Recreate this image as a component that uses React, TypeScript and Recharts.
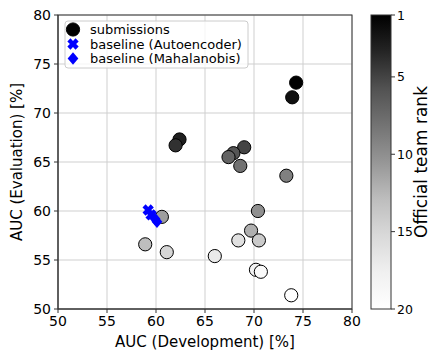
import React from 'react';
import { ScatterChart, Scatter, XAxis, YAxis, CartesianGrid } from 'recharts';

const devAUC = [74.3, 73.9, 62.4, 62.0, 69.0, 67.9, 67.4, 68.6, 73.3, 70.4, 60.6, 69.7, 58.9, 70.5, 61.1, 68.4, 66.0, 70.2, 70.7, 73.8];
const evalAUC = [73.1, 71.6, 67.3, 66.7, 66.5, 65.9, 65.5, 64.6, 63.6, 60.0, 59.4, 58.0, 56.6, 57.0, 55.8, 57.0, 55.4, 54.0, 53.8, 51.4];
const ranks = [1, 2, 3, 4, 5, 6, 7, 8, 9, 10, 11, 12, 13, 14, 15, 16, 17, 18, 19, 20];

const aeDev = [59.2, 59.5];
const aeEval = [60.1, 59.6];
const mahaDev = [59.9, 60.1];
const mahaEval = [59.2, 58.9];

const axisTicks = [50, 55, 60, 65, 70, 75, 80];
const rankTicks = [1, 5, 10, 15, 20];

const submissions = devAUC.map((x, i) => ({ x, y: evalAUC[i], rank: ranks[i] }));
const autoencoder = aeDev.map((x, i) => ({ x, y: aeEval[i] }));
const mahalanobis = mahaDev.map((x, i) => ({ x, y: mahaEval[i] }));

// matplotlib Greys colormap stops
const greys = ['#ffffff', '#f0f0f0', '#d9d9d9', '#bdbdbd', '#969696', '#737373', '#525252', '#252525', '#000000'];
function hex2rgb(h: string) {
  return [parseInt(h.slice(1, 3), 16), parseInt(h.slice(3, 5), 16), parseInt(h.slice(5, 7), 16)];
}
function greyColor(t: number) {
  const p = Math.max(0, Math.min(1, t)) * (greys.length - 1);
  const i = Math.min(greys.length - 2, Math.floor(p));
  const f = p - i;
  const a = hex2rgb(greys[i]);
  const b = hex2rgb(greys[i + 1]);
  const c = a.map((v, k) => Math.round(v + (b[k] - v) * f));
  return `rgb(${c[0]},${c[1]},${c[2]})`;
}
const rankColor = (r: number) => greyColor((20 - r) / 19);

const FONT = 'DejaVu Sans, sans-serif';
const BLUE = '#0000ff';

function xPath(cx: number, cy: number, L = 5.8, w = 2.2) {
  const pts = [[-w, -L], [w, -L], [w, -w], [L, -w], [L, w], [w, w], [w, L], [-w, L], [-w, w], [-L, w], [-L, -w], [-w, -w]];
  const c = Math.SQRT1_2;
  return 'M' + pts.map(([px, py]) => `${cx + (px - py) * c},${cy + (px + py) * c}`).join('L') + 'Z';
}
function dPath(cx: number, cy: number, s = 6.3) {
  return `M${cx},${cy - s}L${cx + s * 0.85},${cy}L${cx},${cy + s}L${cx - s * 0.85},${cy}Z`;
}

const CircleShape = (props: any) => {
  const { cx, cy, payload } = props;
  return <circle cx={cx} cy={cy} r={6.6} fill={rankColor(payload.rank)} stroke="#000" strokeWidth={1} />;
};
const XShape = (props: any) => <path d={xPath(props.cx, props.cy)} fill={BLUE} />;
const DShape = (props: any) => <path d={dPath(props.cx, props.cy)} fill={BLUE} />;

const PL = 58, PT = 15, PW = 294, PH = 294;
const CB_X = 371, CB_W = 20;

export default function App() {
  return (
    <div style={{ position: 'absolute', left: 0, top: 0, width: 430, height: 351, background: '#fff', fontFamily: FONT }}>
      <ScatterChart width={430} height={351} margin={{ top: PT, right: 430 - PL - PW, bottom: 0, left: 0 }}>
        <CartesianGrid stroke="#cfcfcf" strokeWidth={1} horizontalValues={axisTicks} verticalValues={axisTicks} />
        <XAxis
          type="number"
          dataKey="x"
          domain={[50, 80]}
          ticks={axisTicks}
          height={351 - PT - PH}
          tickSize={4}
          tickMargin={3}
          allowDataOverflow
          stroke="#333"
          tick={{ fill: '#000', fontSize: 14, fontFamily: FONT }}
        />
        <YAxis
          type="number"
          dataKey="y"
          domain={[50, 80]}
          ticks={axisTicks}
          width={PL}
          tickSize={4}
          tickMargin={3}
          allowDataOverflow
          stroke="#333"
          tick={{ fill: '#000', fontSize: 14, fontFamily: FONT }}
        />
        <Scatter data={submissions} shape={CircleShape} isAnimationActive={false} />
        <Scatter data={autoencoder} shape={XShape} isAnimationActive={false} />
        <Scatter data={mahalanobis} shape={DShape} isAnimationActive={false} />
      </ScatterChart>
      <svg width={430} height={351} style={{ position: 'absolute', left: 0, top: 0, pointerEvents: 'none' }}>
        <defs>
          <linearGradient id="cbGrad" x1="0" y1="0" x2="0" y2="1">
            {greys.map((c, i) => (
              <stop key={i} offset={1 - i / (greys.length - 1)} stopColor={c} />
            )).reverse()}
          </linearGradient>
        </defs>
        <rect x={PL} y={PT} width={PW} height={PH} fill="none" stroke="#333" strokeWidth={1} />
        {/* legend */}
        <rect x={65} y={21} width={183} height={47} rx={3} fill="#fff" fillOpacity={0.8} stroke="#cccccc" />
        <circle cx={73} cy={29.5} r={6.6} fill="#000" stroke="#000" />
        <path d={xPath(73, 44)} fill={BLUE} />
        <path d={dPath(73, 58.5)} fill={BLUE} />
        <text x={90} y={34} fontSize={13} fontFamily={FONT} fill="#000">submissions</text>
        <text x={90} y={48.5} fontSize={13} fontFamily={FONT} fill="#000">baseline (Autoencoder)</text>
        <text x={90} y={63} fontSize={13} fontFamily={FONT} fill="#000">baseline (Mahalanobis)</text>
        {/* axis labels */}
        <text x={PL + PW / 2} y={347} textAnchor="middle" fontSize={15} fontFamily={FONT} fill="#000">AUC (Development) [%]</text>
        <text transform={`translate(22,${PT + PH / 2}) rotate(-90)`} textAnchor="middle" fontSize={15} fontFamily={FONT} fill="#000">AUC (Evaluation) [%]</text>
        {/* colorbar */}
        <rect x={CB_X} y={PT} width={CB_W} height={PH} fill="url(#cbGrad)" stroke="#333" strokeWidth={1} />
        {rankTicks.map((r) => {
          const y = PT + ((r - 1) / 19) * PH;
          return (
            <g key={r}>
              <line x1={CB_X + CB_W} x2={CB_X + CB_W + 4} y1={y} y2={y} stroke="#333" />
              <text x={CB_X + CB_W + 6} y={y + 4.5} fontSize={12.5} fontFamily={FONT} fill="#000">{r}</text>
            </g>
          );
        })}
        <text transform={`translate(427,${PT + PH / 2}) rotate(-90)`} textAnchor="middle" fontSize={17} fontFamily={FONT} fill="#000">Official team rank</text>
      </svg>
    </div>
  );
}
